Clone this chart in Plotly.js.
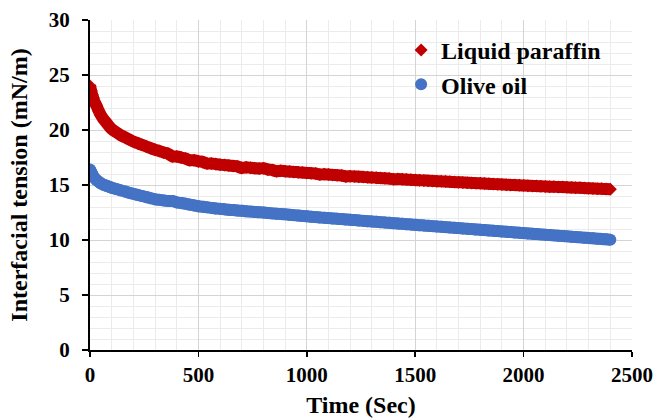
<!DOCTYPE html>
<html>
<head>
<meta charset="utf-8">
<script src="https://cdn.plot.ly/plotly-3.0.1.min.js"></script>
<style>
  html, body { margin: 0; padding: 0; background: #ffffff; }
  #chart { width: 655px; height: 418px; }
</style>
</head>
<body>
<div id="chart"></div>
<script>
// Time (s)
const timeSec = [
  0, 5, 10, 15, 20, 30, 40, 50, 60, 70, 80, 90,
  100, 120, 140, 160, 180, 200, 220, 240, 260, 280,
  300, 320, 340, 360, 380, 400, 420, 440, 460, 480,
  500, 520, 540, 560, 580, 600, 620, 640, 660, 680,
  700, 720, 740, 760, 780, 800, 820, 840, 860, 880,
  900, 920, 940, 960, 980, 1000, 1020, 1040, 1060, 1080,
  1100, 1120, 1140, 1160, 1180, 1200, 1220, 1240, 1260, 1280,
  1300, 1320, 1340, 1360, 1380, 1400, 1420, 1440, 1460, 1480,
  1500, 1520, 1540, 1560, 1580, 1600, 1620, 1640, 1660, 1680,
  1700, 1720, 1740, 1760, 1780, 1800, 1820, 1840, 1860, 1880,
  1900, 1920, 1940, 1960, 1980, 2000, 2020, 2040, 2060, 2080,
  2100, 2120, 2140, 2160, 2180, 2200, 2220, 2240, 2260, 2280,
  2300, 2320, 2340, 2360, 2380, 2400
];

// Interfacial tension (mN/m) - Liquid paraffin
const liquidParaffin = [
  24.0, 23.6, 23.2, 22.9, 22.6, 22.2, 21.75, 21.35, 21.05, 20.8, 20.55, 20.3,
  20.1, 19.8, 19.55, 19.35, 19.15, 18.95, 18.8, 18.65, 18.5, 18.35,
  18.2, 18.1, 17.95, 17.85, 17.6, 17.6, 17.5, 17.4, 17.25, 17.25,
  17.15, 17.1, 16.95, 16.95, 16.9, 16.85, 16.81, 16.77, 16.73, 16.69,
  16.55, 16.61, 16.57, 16.53, 16.49, 16.53, 16.41, 16.37, 16.25, 16.29,
  16.25, 16.22, 16.19, 16.16, 16.13, 16.1, 16.07, 16.04, 15.95, 15.98,
  15.95, 15.92, 15.89, 15.86, 15.78, 15.8, 15.78, 15.75, 15.73, 15.7,
  15.68, 15.66, 15.63, 15.61, 15.58, 15.52, 15.54, 15.52, 15.49, 15.47,
  15.45, 15.43, 15.41, 15.39, 15.37, 15.35, 15.33, 15.31, 15.29, 15.27,
  15.25, 15.23, 15.21, 15.19, 15.17, 15.15, 15.13, 15.11, 15.09, 15.07,
  15.05, 15.03, 15.01, 14.99, 14.97, 14.95, 14.93, 14.92, 14.9, 14.89,
  14.87, 14.85, 14.84, 14.82, 14.81, 14.79, 14.77, 14.75, 14.74, 14.72,
  14.7, 14.68, 14.67, 14.65, 14.64, 14.62
];

// Interfacial tension (mN/m) - Olive oil
const oliveOil = [
  16.4, 16.2, 16.0, 15.8, 15.65, 15.45, 15.3, 15.15, 15.05, 14.97, 14.9, 14.82,
  14.75, 14.63, 14.52, 14.42, 14.3, 14.2, 14.1, 14.0, 13.9, 13.8,
  13.7, 13.65, 13.6, 13.55, 13.55, 13.42, 13.36, 13.3, 13.22, 13.14,
  13.07, 13.02, 12.97, 12.92, 12.87, 12.83, 12.79, 12.75, 12.72, 12.68,
  12.65, 12.61, 12.58, 12.55, 12.52, 12.5, 12.45, 12.42, 12.39, 12.36,
  12.33, 12.29, 12.26, 12.22, 12.19, 12.15, 12.12, 12.08, 12.05, 12.02,
  11.99, 11.96, 11.93, 11.9, 11.87, 11.84, 11.81, 11.78, 11.74, 11.71,
  11.68, 11.65, 11.62, 11.59, 11.56, 11.53, 11.5, 11.47, 11.44, 11.41,
  11.38, 11.35, 11.32, 11.29, 11.26, 11.23, 11.2, 11.17, 11.14, 11.11,
  11.08, 11.05, 11.02, 10.99, 10.96, 10.93, 10.9, 10.87, 10.84, 10.81,
  10.78, 10.75, 10.72, 10.69, 10.66, 10.63, 10.6, 10.57, 10.54, 10.51,
  10.48, 10.45, 10.42, 10.39, 10.36, 10.33, 10.3, 10.27, 10.24, 10.21,
  10.18, 10.15, 10.12, 10.09, 10.06, 10.03
];

const seriesNames = ['Liquid paraffin', 'Olive oil'];
const xTickVals = [0, 500, 1000, 1500, 2000, 2500];
const yTickVals = [0, 5, 10, 15, 20, 25, 30];

const RED = '#c00000';
const BLUE = '#4472c4';
const FONT = 'Liberation Serif';

const traces = [
  { x: timeSec, y: liquidParaffin, type: 'scatter', mode: 'lines',
    line: { color: RED, width: 12, shape: 'spline', smoothing: 0.8 }, showlegend: false, hoverinfo: 'skip' },
  { x: timeSec, y: liquidParaffin, type: 'scatter', mode: 'markers', name: seriesNames[0],
    marker: { symbol: 'diamond', color: RED, size: 10 } },
  { x: timeSec, y: oliveOil, type: 'scatter', mode: 'lines',
    line: { color: BLUE, width: 12, shape: 'spline', smoothing: 0.8 }, showlegend: false, hoverinfo: 'skip' },
  { x: timeSec, y: oliveOil, type: 'scatter', mode: 'markers', name: seriesNames[1],
    marker: { symbol: 'circle', color: BLUE, size: 12 } }
];

const tickFont = { family: FONT, size: 21, color: '#000', weight: 'bold' };
const titleFont = { family: FONT, size: 24, color: '#000', weight: 'bold' };

const layout = {
  width: 655, height: 418,
  margin: { l: 90, r: 23, t: 20, b: 68 },
  paper_bgcolor: '#ffffff', plot_bgcolor: '#ffffff',
  showlegend: true,
  legend: {
    x: 0.574, y: 0.976, xanchor: 'left', yanchor: 'top',
    bgcolor: 'rgba(0,0,0,0)', borderwidth: 0,
    font: { family: FONT, size: 24, color: '#000', weight: 'bold' },
    itemwidth: 30
  },
  xaxis: {
    range: [0, 2500], tickvals: xTickVals, ticktext: xTickVals.map(String),
    showline: true, linecolor: '#000', linewidth: 2,
    ticks: 'outside', ticklen: 5, tickwidth: 1.5, tickcolor: '#000',
    ticklabelstandoff: 0,
    showgrid: true, gridcolor: '#d4d4d4', gridwidth: 1,
    minor: { dtick: 100, showgrid: true, gridcolor: '#ebebeb', gridwidth: 1, ticks: '' },
    zeroline: false, tickfont: tickFont,
    title: { text: 'Time (Sec)', font: titleFont, standoff: 10 },
    automargin: false
  },
  yaxis: {
    range: [0, 30], tickvals: yTickVals, ticktext: yTickVals.map(String),
    showline: true, linecolor: '#000', linewidth: 2,
    ticks: 'outside', ticklen: 6, tickwidth: 1.5, tickcolor: '#000',
    ticklabelstandoff: 8,
    showgrid: true, gridcolor: '#d4d4d4', gridwidth: 1,
    minor: { dtick: 1, showgrid: true, gridcolor: '#ebebeb', gridwidth: 1, ticks: '' },
    zeroline: false, tickfont: tickFont,
    title: { text: 'Interfacial tension (mN/m)', font: titleFont, standoff: 14 },
    automargin: false
  }
};

Plotly.newPlot('chart', traces, layout, { displayModeBar: false, staticPlot: true });
</script>
</body>
</html>
